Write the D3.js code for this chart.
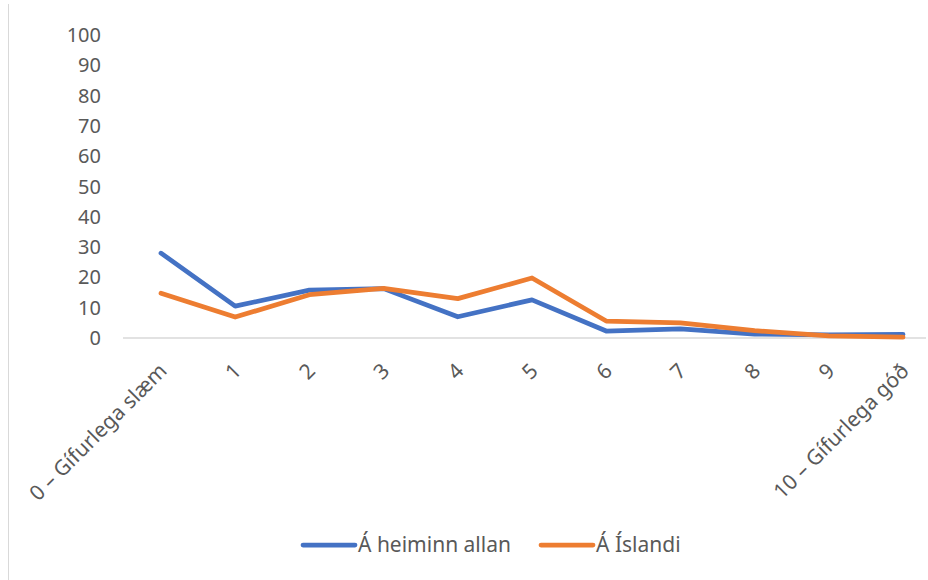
<!DOCTYPE html>
<html lang="is">
<head>
<meta charset="UTF-8">
<title>Línurit</title>
<script src="https://d3js.org/d3.v7.min.js"></script>
<style>
    body {
        margin: 0;
        background: #fff;
        font-family: "Noto Sans", "Open Sans", sans-serif;
    }
    .tick-label {
        fill: #595959;
        font-size: 20px;
    }
    .cat-label, .legend-label {
        fill: #595959;
        font-size: 21px;
    }
</style>
</head>
<body>
<svg id="chart" width="928" height="580"></svg>
<script>
    // categories on the x axis
    const categories = ["0 – Gífurlega slæm", "1", "2", "3", "4", "5", "6", "7", "8", "9", "10 – Gífurlega góð"];
    // series values
    const heimurinn = [28, 10.5, 15.8, 16.3, 7, 12.6, 2.3, 3, 1.3, 1, 1.2];
    const island = [14.8, 6.9, 14.3, 16.4, 13, 19.8, 5.6, 5, 2.4, 0.7, 0.3];
    const seriesNames = ["Á heiminn allan", "Á Íslandi"];
    const colors = ["#4472C4", "#ED7D31"];
    const yTicks = [0, 10, 20, 30, 40, 50, 60, 70, 80, 90, 100];

    const svg = d3.select("#chart");

    // left edge of the chart frame
    svg.append("line")
        .attr("x1", 8.5).attr("x2", 8.5)
        .attr("y1", 4).attr("y2", 580)
        .attr("stroke", "#d9d9d9");

    const x = d3.scalePoint()
        .domain(categories)
        .range([161, 903]);

    const y = d3.scaleLinear()
        .domain([0, 100])
        .range([338, 35]);

    // baseline
    svg.append("line")
        .attr("x1", 123).attr("x2", 926)
        .attr("y1", y(0)).attr("y2", y(0))
        .attr("stroke", "#d9d9d9")
        .attr("stroke-width", 1.5);

    // y labels
    svg.append("g")
        .selectAll("text")
        .data(yTicks)
        .join("text")
        .attr("class", "tick-label")
        .attr("x", 101)
        .attr("y", d => y(d))
        .attr("dy", "0.35em")
        .attr("text-anchor", "end")
        .text(d => d);

    // x labels, rotated
    svg.append("g")
        .selectAll("text")
        .data(categories)
        .join("text")
        .attr("class", "cat-label")
        .attr("text-anchor", "end")
        .attr("transform", d => `translate(${x(d) + 2},${y(0) + 29}) rotate(-45)`)
        .attr("dy", "0.35em")
        .text(d => d);

    const line = d3.line()
        .x((d, i) => x(categories[i]))
        .y(d => y(d));

    [heimurinn, island].forEach((vals, i) => {
        svg.append("path")
            .datum(vals)
            .attr("fill", "none")
            .attr("stroke", colors[i])
            .attr("stroke-width", 4.75)
            .attr("stroke-linejoin", "round")
            .attr("stroke-linecap", "round")
            .attr("d", line);
    });

    // legend
    const legendX = [303, 541];
    const legend = svg.append("g");
    seriesNames.forEach((name, i) => {
        legend.append("line")
            .attr("x1", legendX[i]).attr("x2", legendX[i] + 52)
            .attr("y1", 545).attr("y2", 545)
            .attr("stroke", colors[i])
            .attr("stroke-width", 4.75)
            .attr("stroke-linecap", "round");
        legend.append("text")
            .attr("class", "legend-label")
            .attr("x", legendX[i] + 55)
            .attr("y", 545)
            .attr("dy", "0.35em")
            .text(name);
    });
</script>
</body>
</html>
